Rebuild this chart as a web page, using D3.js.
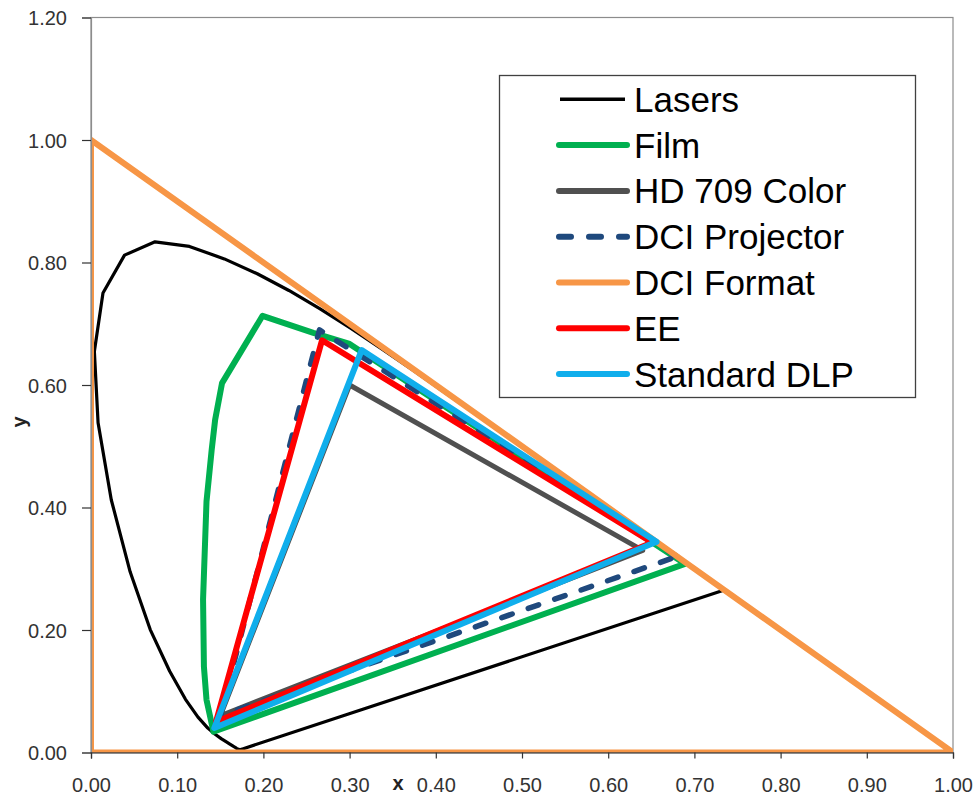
<!DOCTYPE html>
<html>
<head>
<meta charset="utf-8">
<script src="https://cdn.jsdelivr.net/npm/d3@7"></script>
<style>
  html, body { margin: 0; padding: 0; background: #fff; }
  svg { display: block; font-family: "Liberation Sans", Arial, sans-serif; }
</style>
</head>
<body>
<svg id="chart" width="975" height="796"></svg>
<script>
// ---- Data (CIE 1931 x,y chromaticity pairs) ----
const seriesNames = ["Lasers", "Film", "HD 709 Color", "DCI Projector", "DCI Format", "EE", "Standard DLP"];

// Spectral locus (lasers) 380nm .. 700nm, closed via line of purples
const lasers = [
  [0.1741,0.0050],[0.1740,0.0050],[0.1738,0.0049],[0.1736,0.0049],[0.1733,0.0048],
  [0.1730,0.0048],[0.1726,0.0048],[0.1721,0.0048],[0.1714,0.0051],[0.1703,0.0058],
  [0.1689,0.0069],[0.1669,0.0086],[0.1644,0.0109],[0.1611,0.0138],[0.1566,0.0177],
  [0.1510,0.0227],[0.1440,0.0297],[0.1355,0.0399],[0.1241,0.0578],[0.1096,0.0868],
  [0.0913,0.1327],[0.0687,0.2007],[0.0454,0.2950],[0.0235,0.4127],[0.0082,0.5384],
  [0.0039,0.6548],[0.0139,0.7502],[0.0389,0.8120],[0.0743,0.8338],[0.1142,0.8262],
  [0.1547,0.8059],[0.1929,0.7816],[0.2296,0.7543],[0.2658,0.7243],[0.3016,0.6923],
  [0.3373,0.6589],[0.3731,0.6245],[0.4087,0.5896],[0.4441,0.5547],[0.4788,0.5202],
  [0.5125,0.4866],[0.5448,0.4544],[0.5752,0.4242],[0.6029,0.3965],[0.6270,0.3725],
  [0.6658,0.3340],[0.6915,0.3083],[0.7190,0.2809],[0.7300,0.2700],[0.7334,0.2666],
  [0.7347,0.2653],[0.1741,0.0050]
];
const film = [
  [0.142,0.034],[0.134,0.086],[0.131,0.140],[0.130,0.250],[0.134,0.410],
  [0.140,0.494],[0.144,0.543],[0.152,0.603],[0.199,0.713],[0.258,0.685],
  [0.300,0.667],[0.689,0.308],[0.142,0.034]
];
const hd709 = [[0.64,0.33],[0.30,0.60],[0.15,0.06],[0.64,0.33]];
const dciProjector = [[0.680,0.320],[0.265,0.690],[0.150,0.060],[0.680,0.320]];
const dciFormat = [[0,1],[1,0],[0,0],[0,1]];
const ee = [[0.651,0.343],[0.268,0.673],[0.145,0.050],[0.651,0.343]];
const standardDLP = [[0.656,0.344],[0.314,0.657],[0.143,0.040],[0.656,0.344]];

const xTicks = [0,0.1,0.2,0.3,0.4,0.5,0.6,0.7,0.8,0.9,1.0];
const yTicks = [0,0.2,0.4,0.6,0.8,1.0,1.2];

// ---- Styles ----
const styles = [
  {color:"#000000", width:3.2, dash:null},
  {color:"#00B050", width:6, dash:null},
  {color:"#505050", width:5, dash:null},
  {color:"#1F497D", width:5.5, dash:"11,17"},
  {color:"#F79646", width:6, dash:null},
  {color:"#FF0000", width:6, dash:null},
  {color:"#10AEEC", width:6, dash:null}
];
const allData = [lasers, film, hd709, dciProjector, dciFormat, ee, standardDLP];

// ---- Layout ----
const L = 91, R = 953, T = 17.5, B = 752.5;
const x = d3.scaleLinear().domain([0,1]).range([L,R]);
const y = d3.scaleLinear().domain([0,1.2]).range([B,T]);

const svg = d3.select("#chart");

svg.append("defs").append("clipPath").attr("id","plotclip")
  .append("rect").attr("x",L).attr("y",T).attr("width",R-L).attr("height",B-T);

// frame
svg.append("rect").attr("x",L).attr("y",T).attr("width",R-L).attr("height",B-T)
  .attr("fill","#fff").attr("stroke","#8c8c8c").attr("stroke-width",1.2);

const line = d3.line().x(d=>x(d[0])).y(d=>y(d[1]));

const plot = svg.append("g").attr("clip-path","url(#plotclip)");
allData.forEach((data,i)=>{
  const s = styles[i];
  plot.append("path").datum(data)
    .attr("d", line)
    .attr("fill","none")
    .attr("stroke", s.color)
    .attr("stroke-width", s.width)
    .attr("stroke-linejoin","round")
    .attr("stroke-linecap","round")
    .attr("stroke-dasharray", s.dash);
});

// axes
const fmt = d3.format(".2f");
const yAxis = svg.append("g").attr("transform",`translate(${L},0)`)
  .call(d3.axisLeft(y).tickValues(yTicks).tickFormat(fmt).tickSize(9).tickPadding(15));
yAxis.select(".domain").attr("stroke","#8c8c8c").attr("stroke-width",1.2);
yAxis.selectAll(".tick line").attr("stroke","#333").attr("stroke-width",1.2);
yAxis.selectAll(".tick text").attr("font-size","20px").attr("fill","#333")
  .attr("font-family","'Liberation Sans', Arial, sans-serif").attr("dy","0.36em");

const xAxis = svg.append("g").attr("transform",`translate(0,${B})`)
  .call(d3.axisBottom(x).tickValues(xTicks).tickFormat(fmt).tickSize(6).tickPadding(0));
xAxis.select(".domain").attr("stroke","#222").attr("stroke-width",1.2);
xAxis.selectAll(".tick line").attr("stroke","#333").attr("stroke-width",1.2);
xAxis.selectAll(".tick text").attr("font-size","20px").attr("fill","#333")
  .attr("font-family","'Liberation Sans', Arial, sans-serif")
  .attr("dy",null).attr("y", 792 - B);

// axis titles
svg.append("text").attr("x",398).attr("y",790).attr("text-anchor","middle")
  .attr("font-size","20px").attr("font-weight","bold").attr("fill","#222").text("x");
svg.append("text").attr("transform","translate(26,422) rotate(-90)").attr("text-anchor","middle")
  .attr("font-size","20px").attr("font-weight","bold").attr("fill","#222").text("y");

// legend
const lg = svg.append("g");
lg.append("rect").attr("x",499.5).attr("y",75.5).attr("width",416).attr("height",322)
  .attr("fill","#fff").attr("stroke","#404040").attr("stroke-width",1.3);
seriesNames.forEach((name,i)=>{
  const cy = 99.3 + i*45.8;
  const s = styles[i];
  lg.append("line")
    .attr("x1", i===0 ? 560 : 559).attr("x2", i===0 ? 625 : 627)
    .attr("y1",cy).attr("y2",cy)
    .attr("stroke",s.color).attr("stroke-width", i===0 ? 3.5 : 6)
    .attr("stroke-linecap", i===0 ? "butt" : "round")
    .attr("stroke-dasharray", s.dash ? "12,18" : null);
  lg.append("text").attr("x",634).attr("y",cy+12.5)
    .attr("font-size","35px").attr("fill","#000").text(name);
});
</script>
</body>
</html>
